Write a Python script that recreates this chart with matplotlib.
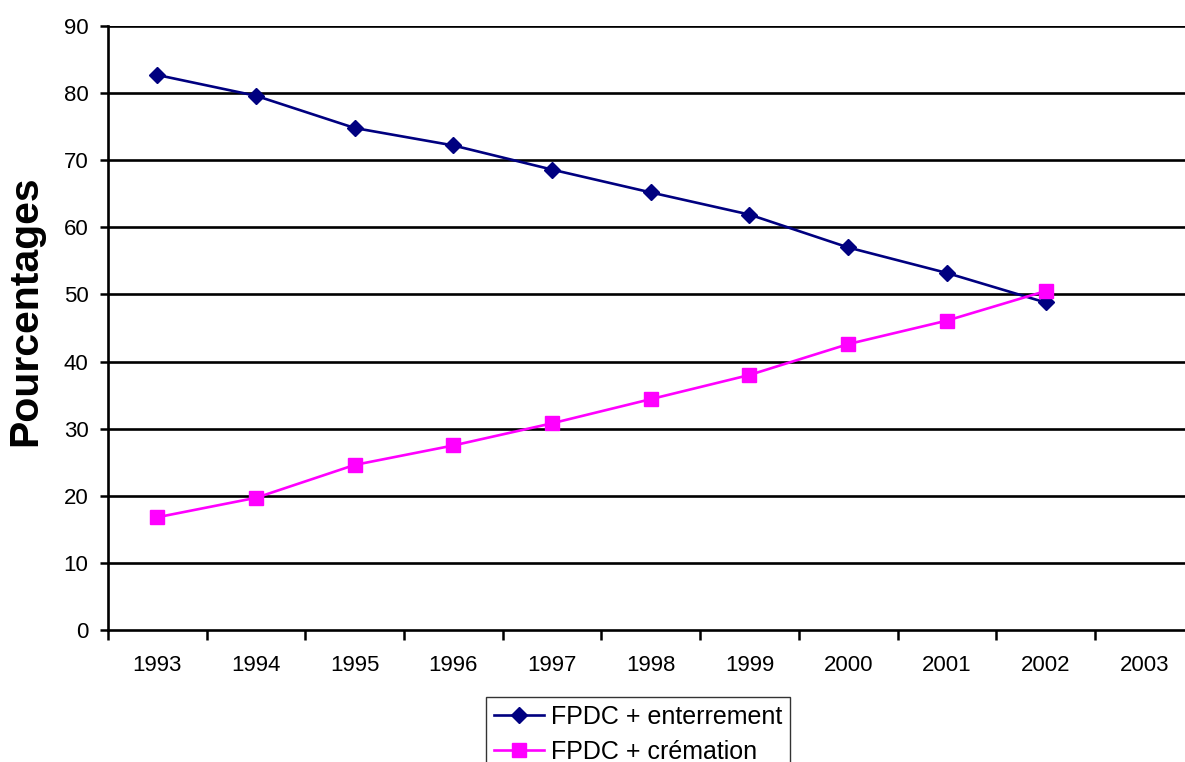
import matplotlib
matplotlib.use("Agg")
import matplotlib.pyplot as plt
from matplotlib.ticker import FixedLocator

years = ["1993", "1994", "1995", "1996", "1997", "1998", "1999", "2000", "2001", "2002", "2003"]
enterrement = [82.7, 79.6, 74.8, 72.2, 68.6, 65.2, 61.9, 57.0, 53.2, 48.8]
cremation = [16.8, 19.7, 24.6, 27.5, 30.8, 34.4, 38.0, 42.6, 46.1, 50.5]
y_ticks = [0, 10, 20, 30, 40, 50, 60, 70, 80, 90]

plt.rcParams['font.family'] = ['Liberation Sans', 'DejaVu Sans']

W, H = 1185, 762
fig = plt.figure(figsize=(W / 100, H / 100), dpi=100)
left, right, top, bottom = 108, 1193.6, 26, 630
ax = fig.add_axes([left / W, 1 - bottom / H, (right - left) / W, (bottom - top) / H])

x = list(range(len(enterrement)))
ax.plot(x, enterrement, color='#000080', lw=1.9, marker='D', ms=8.5,
        label='FPDC + enterrement', zorder=3, clip_on=False)
ax.plot(x, cremation, color='#FF00FF', lw=1.9, marker='s', ms=10.5,
        label='FPDC + crémation', zorder=3, clip_on=False)

ax.set_xlim(-0.5, len(years) - 0.5)
ax.set_ylim(0, 90)

# y axis
ax.set_yticks(y_ticks)
ax.set_yticklabels([str(v) for v in y_ticks])
ax.tick_params(axis='y', direction='out', length=6, width=1.8, pad=8, labelsize=16)
for v in y_ticks[1:]:
    ax.axhline(v, color='black', lw=1.9, zorder=1)

# x axis: major ticks at boundaries, labels at centers
ax.xaxis.set_major_locator(FixedLocator([i - 0.5 for i in range(len(years) + 1)]))
ax.xaxis.set_minor_locator(FixedLocator(list(range(len(years)))))
ax.set_xticklabels([], minor=False)
ax.set_xticklabels(years, minor=True)
ax.tick_params(axis='x', which='major', direction='out', length=7.5, width=1.8)
ax.tick_params(axis='x', which='minor', length=0, pad=18, labelsize=16)

for s in ['top', 'right']:
    ax.spines[s].set_visible(False)
for s in ['left', 'bottom']:
    ax.spines[s].set_linewidth(1.9)
    ax.spines[s].set_color('black')

fig.text(25 / W, 1 - 311 / H, 'Pourcentages', rotation=90, ha='center', va='center',
         fontsize=29.5, fontweight='bold')

leg = fig.legend(loc='upper left', bbox_to_anchor=(486 / W, 1 - 697 / H),
                 bbox_transform=fig.transFigure, fontsize=18, frameon=True,
                 fancybox=False, edgecolor='black', handlelength=2.0,
                 borderpad=0.3, labelspacing=0.45, handletextpad=0.3, borderaxespad=0)
leg.get_frame().set_linewidth(1.0)

fig.savefig('out.png', dpi=100)
